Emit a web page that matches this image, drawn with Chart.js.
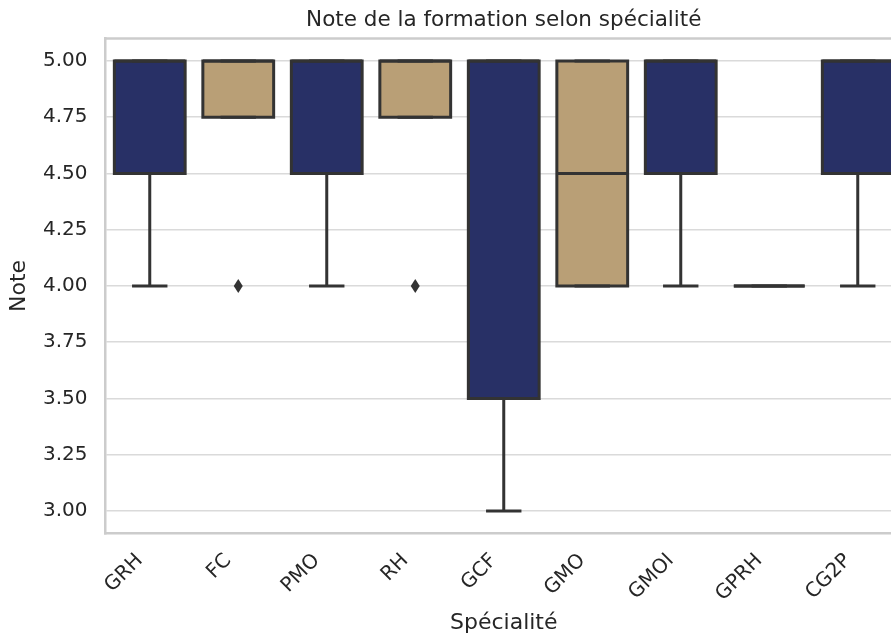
<!DOCTYPE html>
<html>
<head>
<meta charset="utf-8">
<script src="https://cdn.jsdelivr.net/npm/chart.js@4.4.0/dist/chart.umd.min.js"></script>
<style>
  html, body { margin: 0; padding: 0; background: #fff; overflow: hidden; }
  #wrap { width: 891px; height: 644px; overflow: hidden; }
</style>
</head>
<body>
<div id="wrap"><canvas id="myChart" width="910" height="644"></canvas></div>
<script>
const categories = ['GRH', 'FC', 'PMO', 'RH', 'GCF', 'GMO', 'GMOI', 'GPRH', 'CG2P'];
const q1 = [4.5, 4.75, 4.5, 4.75, 3.5, 4.0, 4.5, 4.0, 4.5];
const q3 = [5.0, 5.0, 5.0, 5.0, 5.0, 5.0, 5.0, 4.0, 5.0];
const medians = [5.0, 5.0, 5.0, 5.0, 5.0, 4.5, 5.0, 4.0, 5.0];
const whiskerLow = [4.0, 4.75, 4.0, 4.75, 3.0, 4.0, 4.0, 4.0, 4.0];
const whiskerHigh = [5.0, 5.0, 5.0, 5.0, 5.0, 5.0, 5.0, 4.0, 5.0];
const outliers = [[], [4.0], [], [4.0], [], [], [], [], []];
const yTicks = [3.0, 3.25, 3.5, 3.75, 4.0, 4.25, 4.5, 4.75, 5.0];
const chartTitle = 'Note de la formation selon spécialité';

const NAVY = '#283066';
const TAN = '#b99f76';
const EDGE = '#333333';
const TEXT = '#262626';
const fills = categories.map((c, i) => i % 2 === 0 ? NAVY : TAN);

// frame, title, rotated category labels, then whiskers / outlines / medians / outliers
const boxPlugin = {
    id: 'boxPlugin',
    beforeDraw(chart) {
        const {ctx, chartArea} = chart;
        ctx.save();
        ctx.strokeStyle = '#cccccc';
        ctx.lineWidth = 2.5;
        ctx.beginPath();
        ctx.moveTo(chartArea.left, chartArea.top);
        ctx.lineTo(chartArea.right, chartArea.top);
        ctx.stroke();

        ctx.fillStyle = TEXT;
        ctx.font = '21.5px "DejaVu Sans"';
        ctx.textAlign = 'center';
        ctx.textBaseline = 'middle';
        ctx.fillText(chartTitle, (chartArea.left + chartArea.right) / 2, 20);

        const x = chart.scales.x;
        ctx.font = '20px "DejaVu Sans"';
        ctx.textAlign = 'right';
        categories.forEach((c, i) => {
            ctx.save();
            ctx.translate(x.getPixelForValue(i) - 10, chartArea.bottom + 24);
            ctx.rotate(-Math.PI / 4);
            ctx.fillText(c, 0, 0);
            ctx.restore();
        });
        ctx.restore();
    },
    afterDatasetsDraw(chart) {
        const {ctx} = chart;
        const y = chart.scales.y;
        const bars = chart.getDatasetMeta(0).data;
        ctx.save();
        ctx.strokeStyle = EDGE;
        ctx.fillStyle = EDGE;
        ctx.lineWidth = 3;
        ctx.lineCap = 'butt';
        bars.forEach((bar, i) => {
            const cx = bar.x;
            const w = bar.width;
            const top = y.getPixelForValue(q3[i]);
            const bot = y.getPixelForValue(q1[i]);
            const wl = y.getPixelForValue(whiskerLow[i]);
            const wh = y.getPixelForValue(whiskerHigh[i]);
            ctx.beginPath();
            ctx.moveTo(cx, bot);
            ctx.lineTo(cx, wl);
            ctx.moveTo(cx - w / 4, wl);
            ctx.lineTo(cx + w / 4, wl);
            ctx.moveTo(cx, top);
            ctx.lineTo(cx, wh);
            ctx.moveTo(cx - w / 4, wh);
            ctx.lineTo(cx + w / 4, wh);
            ctx.stroke();
            ctx.strokeRect(cx - w / 2, top, w, bot - top);
            const m = y.getPixelForValue(medians[i]);
            ctx.beginPath();
            ctx.moveTo(cx - w / 2, m);
            ctx.lineTo(cx + w / 2, m);
            ctx.stroke();
            outliers[i].forEach(v => {
                const py = y.getPixelForValue(v);
                ctx.beginPath();
                ctx.moveTo(cx, py - 7);
                ctx.lineTo(cx + 4.5, py);
                ctx.lineTo(cx, py + 7);
                ctx.lineTo(cx - 4.5, py);
                ctx.closePath();
                ctx.fill();
            });
        });
        ctx.restore();
    }
};

const data = {
    labels: categories,
    datasets: [{
        label: 'Note',
        data: categories.map((c, i) => [q1[i], q3[i]]),
        backgroundColor: fills,
        borderWidth: 0,
        barPercentage: 0.8,
        categoryPercentage: 1.0,
    }]
};

const config = {
    type: 'bar',
    data: data,
    options: {
        responsive: false,
        animation: false,
        layout: {padding: {left: 0, right: 8, top: 38.5, bottom: 0}},
        plugins: {
            legend: {display: false},
            tooltip: {enabled: false},
            title: {display: false}
        },
        scales: {
            x: {
                type: 'category',
                offset: true,
                grid: {display: false, drawTicks: false},
                border: {display: true, color: '#cccccc', width: 2.5},
                ticks: {display: false},
                title: {
                    display: true,
                    text: 'Spécialité',
                    color: TEXT,
                    font: {family: 'DejaVu Sans', size: 22},
                    padding: {top: 0, bottom: 8}
                },
                afterFit(scale) { scale.height = 110.5; }
            },
            y: {
                min: 2.9,
                max: 5.1,
                grid: {color: '#dadada', lineWidth: 1.5, drawTicks: false},
                border: {display: true, color: '#cccccc', width: 2.5},
                ticks: {
                    color: TEXT,
                    font: {family: 'DejaVu Sans', size: 20},
                    padding: 18,
                    callback: v => Number(v).toFixed(2)
                },
                afterBuildTicks(scale) {
                    scale.ticks = yTicks.map(v => ({value: v}));
                },
                title: {
                    display: true,
                    text: 'Note',
                    color: TEXT,
                    font: {family: 'DejaVu Sans', size: 22},
                    padding: {top: 6, bottom: 0}
                },
                afterFit(scale) { scale.width = 105.5; }
            }
        }
    },
    plugins: [boxPlugin]
};

const myChart = new Chart(document.getElementById('myChart'), config);
</script>
</body>
</html>
